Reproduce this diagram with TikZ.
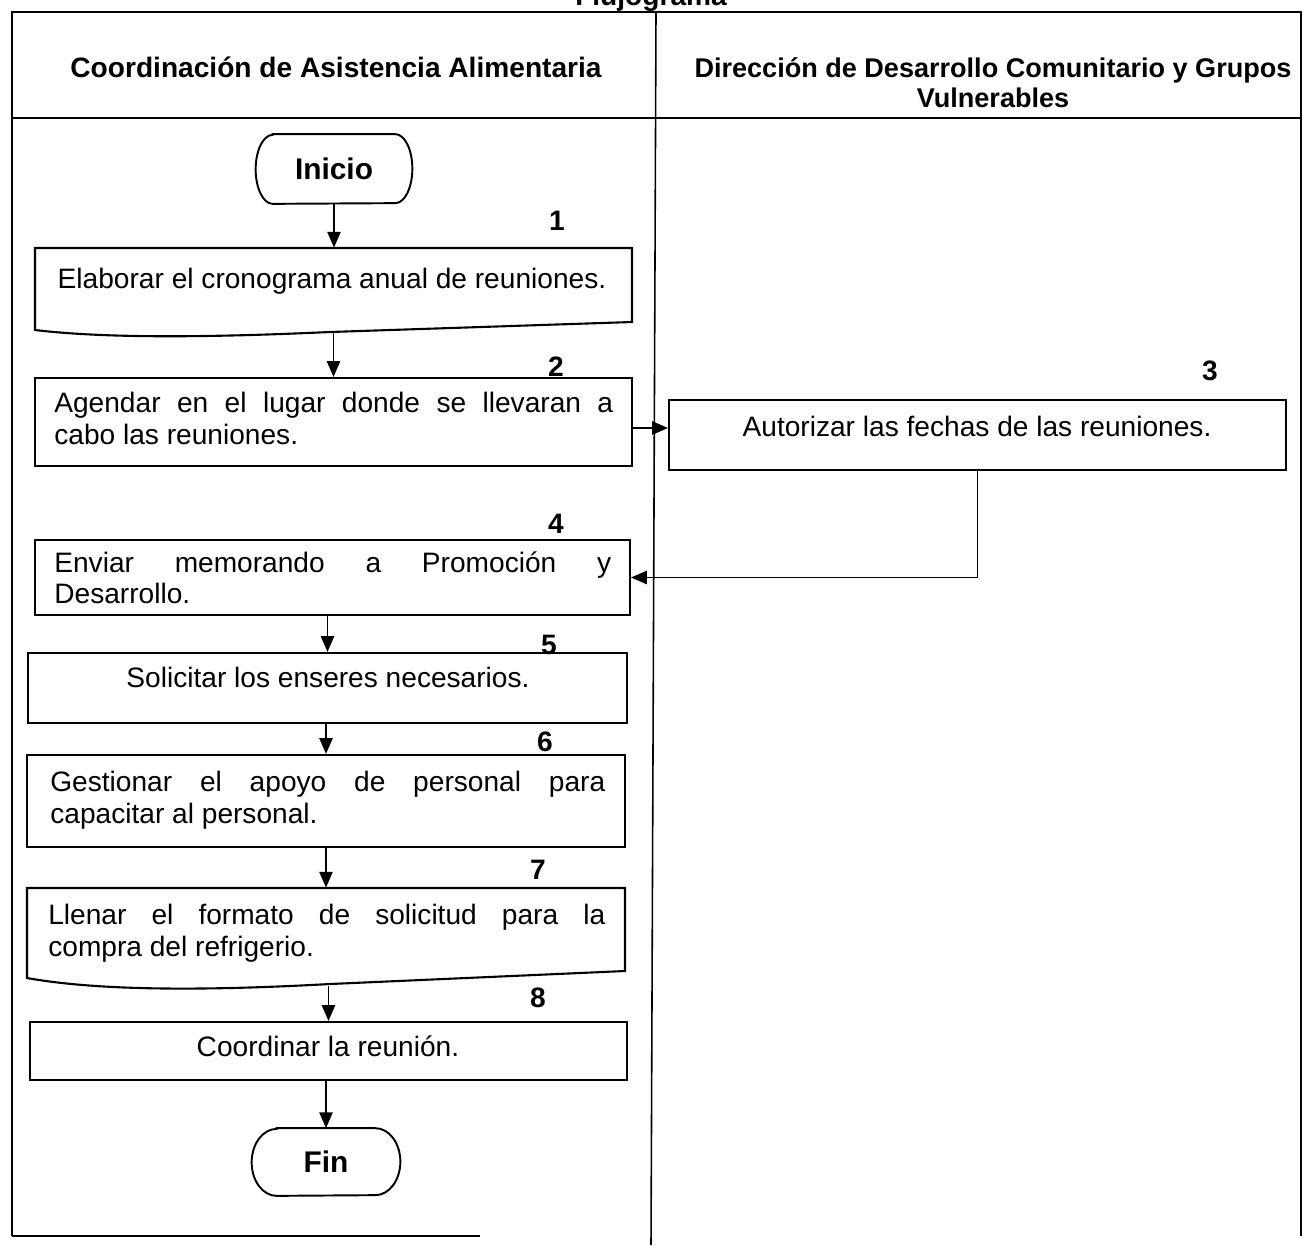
\documentclass[tikz,border=0pt]{standalone}
\usepackage{fontspec}
\setmainfont{Liberation Sans}
\usetikzlibrary{arrows.meta,calc}
\hyphenpenalty=10000
\exhyphenpenalty=10000
\begin{document}
\begin{tikzpicture}[x=0.02cm,y=-0.02cm,
  frame/.style={line width=1.6pt},
  divider/.style={line width=0.9pt},
  boxline/.style={draw, line width=1.2pt},
  box/.style={boxline, rectangle, inner sep=0pt},
  docframe/.style={rectangle, inner sep=0pt},
  term/.style={rectangle, inner sep=0pt,
    font=\bfseries\fontsize{17}{19}\selectfont},
  termline/.style={line width=1.1pt},
  txt/.style={inner sep=0pt, font=\fontsize{16}{18}\selectfont},
  jtxt/.style={txt, align=justify, anchor=north west},
  head/.style={inner sep=0pt, font=\bfseries\fontsize{16}{17}\selectfont},
  num/.style={inner sep=0pt, anchor=base, font=\bfseries\fontsize{16}{18}\selectfont},
  flow/.style={line width=1.1pt, -{Triangle[length=9pt,width=7.5pt]}}
]
\useasboundingbox (0,0) rectangle (1304,1245);

% title (runs off the top of the page)
\node[head, anchor=base] (title) at (651,5) {Flujograma};

% swimlane frame
\draw[frame] (12,1236) -- (12,12) -- (1301,12) -- (1301,1236);
\draw[frame] (12,1236) -- (480,1236);
\draw[line width=1.2pt] (12,118) -- (1301,118);
\draw[divider] (656,12) -- (651,1245);

% lane headers
\node[head, anchor=base] (h1) at (336,77) {Coordinación de Asistencia Alimentaria};
\node[head, anchor=base, align=center, font=\bfseries\fontsize{15.4}{17}\selectfont]
  (h2) at (993,107) {Dirección de Desarrollo Comunitario y Grupos\\Vulnerables};

% start
\node[term, minimum width=3.12cm, minimum height=1.38cm] (ini) at (334,169) {Inicio};
\draw[termline] ([xshift=0.34cm]ini.north west) -- ([xshift=-0.34cm]ini.north east)
  arc[start angle=90, end angle=-90, x radius=0.34cm, y radius=0.69cm]
  -- ([xshift=0.34cm]ini.south west)
  arc[start angle=270, end angle=90, x radius=0.34cm, y radius=0.69cm] -- cycle;

% 1 - document
\node[docframe, minimum width=11.94cm, minimum height=1.68cm] (b1) at (333.5,290) {};
\draw[line width=1.2pt] (632,322) -- (330,332) .. controls (220,337) and (110,339) .. (35,330)
  -- (35,248) -- (632,248) -- cycle;
\node[txt, anchor=base] (t1) at (332,288) {Elaborar el cronograma anual de reuniones.};
\node[num] (n1) at (557,230) {1};

% 2
\node[box, minimum width=11.94cm, minimum height=1.76cm] (b2) at (333.5,422) {};
\node[jtxt, text width=11.18cm] (t2) at (54,392)
  {Agendar en el lugar donde se llevaran a\linebreak cabo las reuniones.};
\node[num] (n2) at (556,376) {2};
\coordinate (b2out) at ([yshift=-0.12cm]b2.east);

% 3
\node[box, minimum width=12.34cm, minimum height=1.40cm] (b3) at (977.5,435) {};
\node[txt, anchor=base] (t3) at (977,436) {Autorizar las fechas de las reuniones.};
\node[num] (n3) at (1210,380) {3};

% 4
\node[box, minimum width=11.90cm, minimum height=1.50cm] (b4) at (332.5,577.5) {};
\node[jtxt, text width=11.14cm] (t4) at (54,551)
  {Enviar memorando a Promoción y\linebreak Desarrollo.};
\node[num] (n4) at (556,533) {4};

% 5
\node[box, minimum width=11.98cm, minimum height=1.40cm] (b5) at (327.5,688) {};
\node[txt, anchor=base] (t5) at (328,687) {Solicitar los enseres necesarios.};
\node[num] (n5) at (549,654) {5};

% 6
\node[box, minimum width=11.96cm, minimum height=1.84cm] (b6) at (326,801) {};
\node[jtxt, text width=11.10cm] (t6) at (50,771)
  {Gestionar el apoyo de personal para\linebreak capacitar al personal.};
\node[num] (n6) at (545,751) {6};

% 7 - document
\node[docframe, minimum width=11.96cm, minimum height=1.96cm] (b7) at (326,937) {};
\draw[line width=1.2pt] (625,971) -- (330,984) .. controls (220,990) and (105,992) .. (27,978)
  -- (27,888) -- (625,888) -- cycle;
\node[jtxt, text width=11.14cm] (t7) at (48,904)
  {Llenar el formato de solicitud para la\linebreak compra del refrigerio.};
\node[num] (n7) at (538,879) {7};

% 8
\node[box, minimum width=11.94cm, minimum height=1.16cm] (b8) at (328.5,1051) {};
\node[txt, anchor=base] (t8) at (328,1056) {Coordinar la reunión.};
\node[num] (n8) at (538,1007) {8};

% end
\node[term, minimum width=2.96cm, minimum height=1.34cm] (fin) at (326,1162) {Fin};
\draw[termline] ([xshift=0.5cm]fin.north west) -- ([xshift=-0.5cm]fin.north east)
  arc[start angle=90, end angle=-90, x radius=0.5cm, y radius=0.67cm]
  -- ([xshift=0.5cm]fin.south west)
  arc[start angle=270, end angle=90, x radius=0.5cm, y radius=0.67cm] -- cycle;

% flow
\draw[flow] (ini.south) -- (ini.south |- b1.north);
\draw[flow] (b1.south) -- (b1.south |- b2.north);
\draw[flow] (b2out) -- (b2out -| b3.west);
\draw[flow] (b3.south) |- (b4.east);
\draw[flow] (b4.south -| b5.north) -- (b5.north);
\draw[flow] (b5.south -| b6.north) -- (b6.north);
\draw[flow] (b6.south) -- (b6.south |- b7.north);
\draw[flow] (b7.south -| b8.north) -- (b8.north);
\draw[flow] (b8.south -| fin.north) -- (fin.north);
\end{tikzpicture}
\end{document}
